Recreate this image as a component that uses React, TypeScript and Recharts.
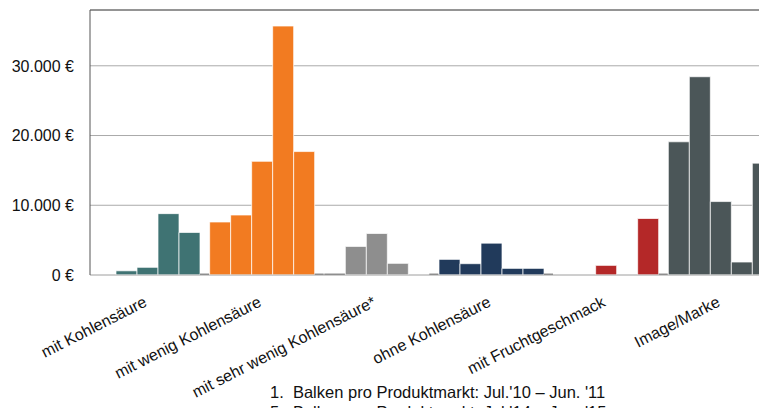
import React from "react";
import { BarChart, Bar, XAxis, YAxis, CartesianGrid, Cell, ReferenceLine } from "recharts";

const categories = [
  "mit Kohlensäure",
  "mit wenig Kohlensäure",
  "mit sehr wenig Kohlensäure*",
  "ohne Kohlensäure",
  "mit Fruchtgeschmack",
  "Image/Marke",
];
const year1 = [0, 7600, 190, 2240, 0, 19100];
const year2 = [600, 8600, 4100, 1620, 0, 28430];
const year3 = [1100, 16300, 5950, 4570, 1380, 10530];
const year4 = [8800, 35700, 1670, 950, 0, 1860];
const year5 = [6100, 17700, 0, 950, 8100, 16040];
const separator = [190, 190, 190, 190, 190, 190];
const yTicks = [0, 10000, 20000, 30000];
const legendLines = [
  "1.  Balken pro Produktmarkt: Jul.'10 – Jun. '11",
  "5.  Balken pro Produktmarkt: Jul.'14 – Jun. '15",
];

const catColors = ["#3f7373", "#f27b21", "#8e8e8e", "#213a5b", "#b42828", "#4b5658"];
const sepColor = "#555555";
const FONT = "'Liberation Sans', Arial, sans-serif";

const data = categories.map((name, i) => ({
  name,
  y1: year1[i],
  y2: year2[i],
  y3: year3[i],
  y4: year4[i],
  y5: year5[i],
  sep: separator[i],
}));

const fmt = (v: number) => `${String(v).replace(/\B(?=(\d{3})+(?!\d))/g, ".")} €`;

const XTick = (props: any) => {
  const { x, y, payload } = props;
  return (
    <g transform={`translate(${x - 4.5},${y + 28.5}) rotate(-27)`}>
      <text x={0} y={0} textAnchor="end" fill="#111" fontSize={16} fontFamily={FONT}>
        {payload.value}
      </text>
    </g>
  );
};

const YTick = (props: any) => {
  const { x, y, payload } = props;
  return (
    <text x={x} y={y} dy="0.36em" textAnchor="end" fill="#111" fontSize={16} fontFamily={FONT}>
      {fmt(payload.value)}
    </text>
  );
};

const seriesKeys = ["y1", "y2", "y3", "y4", "y5"];

export default function App() {
  return (
    <div style={{ position: "relative", width: 759, height: 408, marginBottom: -8, overflow: "hidden" }}>
      <BarChart
        width={775}
        height={400}
        data={data}
        margin={{ top: 2, right: 0, left: 0, bottom: 0 }}
        barGap={0}
        barCategoryGap={0}
      >
        <CartesianGrid vertical={false} stroke="#aaaaaa" />
        <XAxis
          dataKey="name"
          interval={0}
          tick={<XTick />}
          tickLine={false}
          tickSize={0}
          axisLine={{ stroke: "#c8c8c8" }}
          padding={{ left: 5, right: 0 }}
          height={133}
        />
        <YAxis
          domain={[0, 38000]}
          ticks={yTicks}
          width={82}
          tickLine={false}
          tickSize={0}
          tickMargin={16}
          axisLine={{ stroke: "#555555" }}
          tick={<YTick />}
          allowDataOverflow
        />
        <ReferenceLine y={38000} stroke="#555555" />
        {seriesKeys.map((k) => (
          <Bar key={k} dataKey={k} barSize={21} isAnimationActive={false}>
            {data.map((d, i) => {
              const tiny = k === "y1" && i === 2;
              return (
                <Cell
                  key={i}
                  fill={tiny ? sepColor : catColors[i]}
                  stroke={tiny ? "none" : "#ffffff"}
                  strokeOpacity={0.7}
                  strokeWidth={1}
                />
              );
            })}
          </Bar>
        ))}
        <Bar dataKey="sep" barSize={9} fill={sepColor} isAnimationActive={false} />
      </BarChart>
      {legendLines.map((t, i) => (
        <div
          key={i}
          style={{
            position: "absolute",
            left: 262,
            top: 374 + i * 20,
            fontFamily: FONT,
            fontSize: 16.5,
            lineHeight: "20px",
            whiteSpace: "pre",
            color: "#111",
          }}
        >
          {t}
        </div>
      ))}
    </div>
  );
}
